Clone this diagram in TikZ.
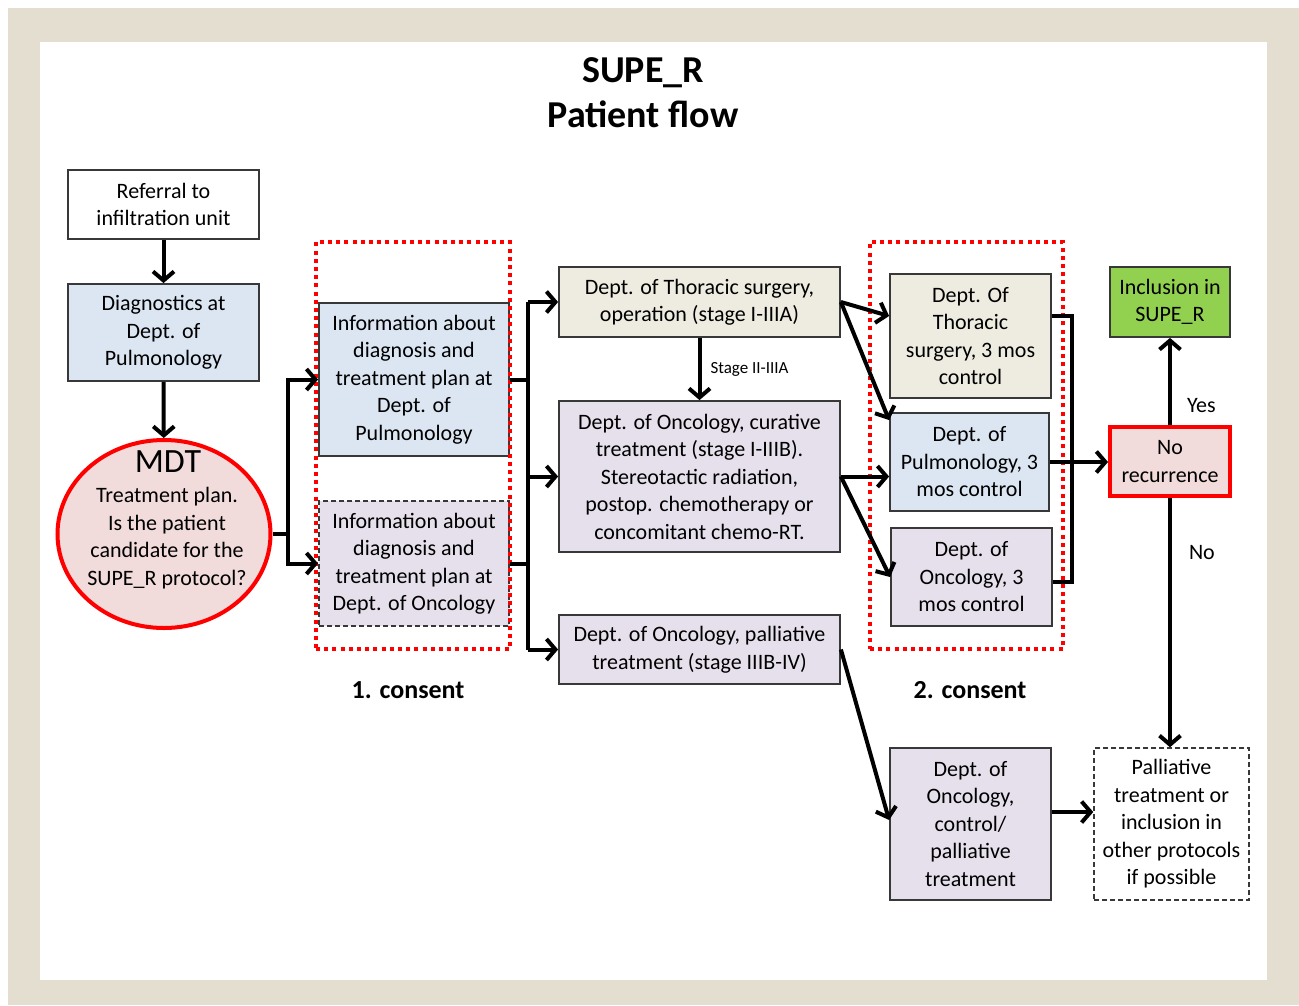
\documentclass[tikz,border=0pt]{standalone}
\usepackage{fontspec}
\setmainfont{Carlito}
\usetikzlibrary{arrows.meta,shapes.geometric}
\definecolor{framec}{HTML}{E4DED1}
\definecolor{boxline}{HTML}{383838}
\definecolor{fblue}{HTML}{DCE6F2}
\definecolor{flav}{HTML}{E6E0EC}
\definecolor{fbeige}{HTML}{EEECE1}
\definecolor{fpink}{HTML}{F2DCDB}
\definecolor{fgreen}{HTML}{92D050}
\begin{document}
\begin{tikzpicture}[x=1pt,y=-1pt,
  box/.style={draw=boxline, line width=1.8pt, align=center, inner sep=0pt,
    font=\fontsize{22}{27.5}\selectfont},
  bluebox/.style={box, fill=fblue},
  lavbox/.style={box, fill=flav},
  beigebox/.style={box, fill=fbeige},
  dashbox/.style={box, dash pattern=on 5pt off 3pt},
  redbox/.style={box, fill=fpink, draw=red, line width=4pt},
  consentbox/.style={draw=red, line width=4pt, dash pattern=on 4pt off 4.2pt, inner sep=0pt},
  line/.style={line width=4pt, black},
  arr/.style={line, -{Straight Barb[length=9pt,width=21pt,line width=4pt]}},
  lbl/.style={font=\fontsize{22}{27.5}\selectfont, inner sep=0pt},
  consentlbl/.style={font=\fontsize{26}{30}\selectfont\bfseries, inner sep=0pt},
  titlelbl/.style={font=\fontsize{38}{45}\selectfont\bfseries, align=center, inner sep=0pt}
]
\useasboundingbox (0,0) rectangle (1299,1005);
\fill[white] (0,0) rectangle (1299,1005);
\fill[framec] (8,8) rectangle (1299,1005);
\fill[white] (40,42) rectangle (1267,980);

% title
\node[titlelbl] (title) at (643,93) {SUPE\_R\\Patient flow};

% left column
\node[box, fill=white, minimum width=191pt, minimum height=69pt] (ref) at (163.5,204.5) {Referral to\\infiltration unit};
\node[bluebox, minimum width=191pt, minimum height=97pt] (diag) at (163.5,332.5) {Diagnostics at\\Dept. of\\Pulmonology};
\node[ellipse, draw=red, line width=4pt, fill=fpink, minimum width=213pt, minimum height=188pt, inner sep=0pt] (mdt) at (164,534) {};
\node[lbl, font=\fontsize{34}{38}\selectfont] (mdtt) at (168,462) {MDT};
\node[lbl, align=center] (mdtq) at (167,538) {Treatment plan.\\Is the patient\\candidate for the\\SUPE\_R protocol?};

% information boxes
\node[bluebox, minimum width=190pt, minimum height=153pt] (infop) at (414,379.5) {Information about\\diagnosis and\\treatment plan at\\Dept. of\\Pulmonology};
\node[lavbox, dash pattern=on 5pt off 3pt, minimum width=190pt, minimum height=125pt] (infoo) at (414,563.5) {Information about\\diagnosis and\\treatment plan at\\Dept. of Oncology};
\node[consentbox, minimum width=194pt, minimum height=407pt] (c1) at (413,445.5) {};
\node[consentlbl] (c1l) at (408,690) {1. consent};

% treatment column
\node[beigebox, minimum width=281pt, minimum height=70pt] (thor) at (699.5,302) {Dept. of Thoracic surgery,\\operation (stage I-IIIA)};
\node[lavbox, minimum width=281pt, minimum height=151pt] (onc) at (699.5,476.5) {Dept. of Oncology, curative\\treatment (stage I-IIIB).\\Stereotactic radiation,\\postop. chemotherapy or\\concomitant chemo-RT.};
\node[lavbox, minimum width=281pt, minimum height=69pt] (pal) at (699.5,649.5) {Dept. of Oncology, palliative\\treatment (stage IIIB-IV)};

% control column
\node[beigebox, minimum width=161pt, minimum height=124pt] (thor3) at (970.5,336) {Dept. Of\\Thoracic\\surgery, 3 mos\\control};
\node[bluebox, minimum width=159pt, minimum height=98pt] (pulm3) at (969.5,462) {Dept. of\\Pulmonology, 3\\mos control};
\node[lavbox, minimum width=161pt, minimum height=98pt] (onc3) at (971.5,577) {Dept. of\\Oncology, 3\\mos control};
\node[consentbox, minimum width=193pt, minimum height=407pt] (c2) at (966.5,445.5) {};
\node[consentlbl] (c2l) at (970,690) {2. consent};
\node[lavbox, minimum width=161pt, minimum height=152pt] (occ) at (970.5,824) {Dept. of\\Oncology,\\control/\\palliative\\treatment};

% outcome column
\node[box, fill=fgreen, minimum width=120pt, minimum height=70pt] (incl) at (1170,302) {Inclusion in\\SUPE\_R};
\node[redbox, minimum width=120pt, minimum height=69pt] (norec) at (1170,461.5) {No\\recurrence};
\node[dashbox, fill=white, line width=1.5pt, minimum width=155pt, minimum height=152pt] (palt) at (1171.5,824) {Palliative\\treatment or\\inclusion in\\other protocols\\if possible};

% connectors
\draw[arr] (ref) -- (diag);
\draw[arr] (diag) -- (mdt);

\coordinate (f1) at (288,534);
\draw[line] (mdt.east) -- (f1);
\draw[arr] (f1) |- (infop.west);
\draw[arr] (f1) |- (infoo.west);

\coordinate (bus) at (528,0);
\draw[line] (infop.east) -- (bus |- infop.east);
\draw[line] (infoo.east) -- (bus |- infoo.east);
\draw[line] (bus |- thor.west) -- (bus |- pal.west);
\draw[arr] (bus |- thor.west) -- (thor.west);
\draw[arr] (bus |- onc.west) -- (onc.west);
\draw[arr] (bus |- pal.west) -- (pal.west);

\draw[arr] (thor) -- node[right=9pt, font=\fontsize{17}{20}\selectfont, inner sep=0pt] {Stage II-IIIA} (onc);

\draw[arr] (thor.east) -- ([yshift=20pt]thor3.west);
\draw[arr] (thor.east) -- ([yshift=-8pt]pulm3.north west);
\draw[arr] (onc.east) -- (onc.east -| pulm3.west);
\draw[arr] (onc.east) -- (onc3.west);

\coordinate (brk) at (1072,0);
\draw[line] ([yshift=20pt]thor3.east) -- ([yshift=20pt]thor3.east -| brk) -- ([yshift=-5pt]onc3.east -| brk) -- ([yshift=-5pt]onc3.east);
\draw[arr] (pulm3.east) -- (pulm3.east -| norec.west);

\draw[arr] (norec) -- node[pos=0.22, right=15pt, lbl] {Yes} (incl);
\draw[arr] (norec.south) -- node[pos=0.22, right=17pt, lbl] {No} (norec.south |- palt.north);

\draw[arr] (pal.east) -- ([yshift=4pt]occ.west);
\draw[arr] ([yshift=12pt]occ.east) -- ([yshift=12pt]palt.west);
\end{tikzpicture}
\end{document}
